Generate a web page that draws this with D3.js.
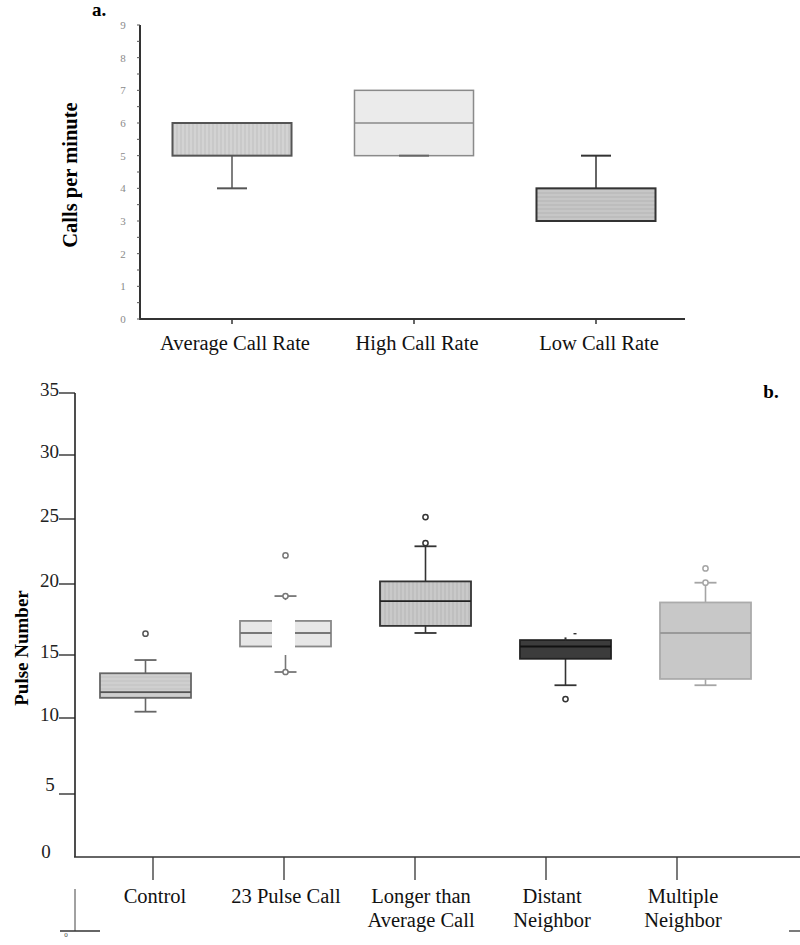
<!DOCTYPE html>
<html><head><meta charset="utf-8">
<script src="https://cdn.jsdelivr.net/npm/d3@7"></script>
<style>body{margin:0;background:#fff}svg{display:block}text{font-family:"Liberation Serif","Times New Roman",serif}</style>
</head><body>
<script>
// ---- Panel a data ----
const topCats = ["Average Call Rate", "High Call Rate", "Low Call Rate"];
const topMin = [4, 5, 3];
const topQ1  = [5, 5, 3];
const topMed = [6, 6, 3];
const topQ3  = [6, 7, 4];
const topMax = [6, 7, 5];
const topTicks = [0, 1, 2, 3, 4, 5, 6, 7, 8, 9];

// ---- Panel b data ----
const botCats = [["Control"], ["23 Pulse Call"], ["Longer than", "Average Call"], ["Distant", "Neighbor"], ["Multiple", "Neighbor"]];
const botMin = [10.5, 13.65, 16.55, 12.6, 12.6];
const botQ1  = [11.6, 15.6, 17.05, 14.7, 13.1];
const botMed = [12.05, 16.55, 18.8, 15.6, 16.55];
const botQ3  = [13.55, 17.4, 20.2, 16.05, 18.7];
const botMax = [14.6, 19.15, 22.9, 16.1, 20.1];
const botOutliers = [[16.5], [13.65, 19.15, 22.2], [23.15, 25.15], [11.5], [20.1, 21.2]];
const botTicks = [0, 5, 10, 15, 20, 25, 30, 35];

const svg = d3.select("body").append("svg").attr("width", 800).attr("height", 945);
const defs = svg.append("defs");
function stripes(id, bg, fg, vertical) {
  const p = defs.append("pattern").attr("id", id).attr("patternUnits", "userSpaceOnUse")
    .attr("width", vertical ? 4 : 8).attr("height", vertical ? 8 : 4);
  p.append("rect").attr("width", 8).attr("height", 8).attr("fill", bg);
  if (vertical) p.append("rect").attr("x", 0).attr("width", 2).attr("height", 8).attr("fill", fg);
  else p.append("rect").attr("y", 0).attr("width", 8).attr("height", 2).attr("fill", fg);
}
stripes("vA", "#d3d3d3", "#c9c9c9", true);
stripes("hL", "#c6c6c6", "#bdbdbd", false);
stripes("vL", "#c9c9c9", "#bfbfbf", true);
stripes("hC", "#cfcfcf", "#c8c8c8", false);

// ================= Panel a =================
const ya = d3.scaleLinear().domain([0, 9]).range([319, 25]);
const xa = d3.scaleBand().domain(topCats).range([141, 687]).padding(0);
const bwA = xa.bandwidth() * 0.654;
const ga = svg.append("g");
const topStyle = [
  {fill: "url(#vA)", stroke: "#555", sw: 2, med: "#555"},
  {fill: "#ebebeb", stroke: "#8a8a8a", sw: 1.5, med: "#8a8a8a"},
  {fill: "url(#hL)", stroke: "#333", sw: 2, med: "#333"}
];
topCats.forEach((c, i) => {
  const cx = xa(c) + xa.bandwidth() / 2, st = topStyle[i];
  ga.append("line").attr("x1", cx).attr("x2", cx).attr("y1", ya(topMin[i])).attr("y2", ya(topQ1[i])).attr("stroke", st.stroke).attr("stroke-width", 1.5);
  ga.append("line").attr("x1", cx).attr("x2", cx).attr("y1", ya(topMax[i])).attr("y2", ya(topQ3[i])).attr("stroke", st.stroke).attr("stroke-width", 1.5);
  ga.append("rect").attr("x", cx - bwA / 2).attr("width", bwA).attr("y", ya(topQ3[i])).attr("height", ya(topQ1[i]) - ya(topQ3[i]))
    .attr("fill", st.fill).attr("stroke", st.stroke).attr("stroke-width", st.sw);
  ga.append("line").attr("x1", cx - bwA / 2).attr("x2", cx + bwA / 2).attr("y1", ya(topMed[i])).attr("y2", ya(topMed[i])).attr("stroke", st.med).attr("stroke-width", 1.5);
  ga.append("line").attr("x1", cx - 15).attr("x2", cx + 15).attr("y1", ya(topMin[i])).attr("y2", ya(topMin[i])).attr("stroke", i === 1 ? "#666" : st.stroke).attr("stroke-width", 2);
  if (topMax[i] !== topQ3[i])
    ga.append("line").attr("x1", cx - 15).attr("x2", cx + 15).attr("y1", ya(topMax[i])).attr("y2", ya(topMax[i])).attr("stroke", st.stroke).attr("stroke-width", 2);
});
const axA = ga.append("g");
axA.append("line").attr("x1", 140).attr("x2", 140).attr("y1", ya(9)).attr("y2", ya(0)).attr("stroke", "#333").attr("stroke-width", 2);
axA.append("line").attr("x1", 139).attr("x2", 685).attr("y1", ya(0)).attr("y2", ya(0)).attr("stroke", "#333").attr("stroke-width", 2);
d3.range(0, 9.01, 0.5).forEach(v => {
  axA.append("line").attr("x1", 137).attr("x2", 140).attr("y1", ya(v)).attr("y2", ya(v)).attr("stroke", "#555").attr("stroke-width", 1);
});
topTicks.forEach(v => {
  axA.append("text").attr("x", 123).attr("y", ya(v) + 4).attr("text-anchor", "middle").attr("font-size", 11).attr("fill", "#8a8a8a").text(v);
});
topCats.forEach(c => {
  const cx = xa(c) + xa.bandwidth() / 2;
  axA.append("line").attr("x1", cx).attr("x2", cx).attr("y1", ya(0)).attr("y2", ya(0) + 5).attr("stroke", "#333").attr("stroke-width", 1.5);
  axA.append("text").attr("x", cx + 3).attr("y", 350).attr("text-anchor", "middle").attr("font-size", 20.5).attr("fill", "#111").text(c);
});
svg.append("text").attr("x", 99).attr("y", 16).attr("text-anchor", "middle").attr("font-size", 19).attr("font-weight", "bold").text("a.");
svg.append("text").attr("transform", "translate(77,175) rotate(-90)").attr("text-anchor", "middle").attr("font-size", 20.5).attr("font-weight", "bold").text("Calls per minute");

// ================= Panel b =================
const yb = d3.scaleLinear().domain(botTicks).range([857, 794, 718, 655, 584, 519, 455, 393]);
const catKeys = botCats.map(d => d.join(" "));
const xb = d3.scaleBand().domain(catKeys).range([75.5, 775.5]).padding(0);
const xbAxis = d3.scalePoint().domain(catKeys).range([153, 677]);
const bwB = xb.bandwidth() * 0.65;
const gb = svg.append("g");
const botStyle = [
  {fill: "url(#hC)", stroke: "#666", med: "#555", wh: "#666", out: "#555"},
  {fill: "#e7e7e7", stroke: "#888", med: "#777", wh: "#777", out: "#777"},
  {fill: "url(#vL)", stroke: "#333", med: "#222", wh: "#333", out: "#333"},
  {fill: "#3c3c3c", stroke: "#222", med: "#111", wh: "#333", out: "#333"},
  {fill: "#c8c8c8", stroke: "#ababab", med: "#9a9a9a", wh: "#a5a5a5", out: "#a5a5a5"}
];
catKeys.forEach((c, i) => {
  const cx = xb(c) + xb.bandwidth() / 2, st = botStyle[i];
  gb.append("line").attr("x1", cx).attr("x2", cx).attr("y1", yb(botMin[i])).attr("y2", yb(botQ1[i])).attr("stroke", st.wh).attr("stroke-width", 1.6);
  gb.append("line").attr("x1", cx).attr("x2", cx).attr("y1", yb(botMax[i])).attr("y2", yb(botQ3[i])).attr("stroke", st.wh).attr("stroke-width", 1.6);
  gb.append("rect").attr("x", cx - bwB / 2).attr("width", bwB).attr("y", yb(botQ3[i])).attr("height", yb(botQ1[i]) - yb(botQ3[i]))
    .attr("fill", st.fill).attr("stroke", st.stroke).attr("stroke-width", 1.8);
  gb.append("line").attr("x1", cx - bwB / 2).attr("x2", cx + bwB / 2).attr("y1", yb(botMed[i])).attr("y2", yb(botMed[i])).attr("stroke", st.med).attr("stroke-width", 1.8);
  [botMin[i], botMax[i]].forEach(v => {
    if (i === 3 && v === botMax[i]) return;
    gb.append("line").attr("x1", cx - 11).attr("x2", cx + 11).attr("y1", yb(v)).attr("y2", yb(v)).attr("stroke", st.wh).attr("stroke-width", 1.8);
  });
  if (i === 1) {
    gb.append("rect").attr("x", cx - 13.5).attr("width", 23).attr("y", yb(botMax[i]) + 4).attr("height", yb(botMin[i]) - yb(botMax[i]) - 21).attr("fill", "#fff");
  }
  if (i === 3) {
    gb.append("rect").attr("x", cx - 1).attr("width", 2).attr("y", yb(botMax[i]) - 2).attr("height", 3).attr("fill", "#333");
    gb.append("rect").attr("x", cx + 8).attr("width", 3).attr("y", yb(16.5) - 0.7).attr("height", 1.4).attr("fill", "#333");
  }
  botOutliers[i].forEach(v => {
    gb.append("circle").attr("cx", cx).attr("cy", yb(v)).attr("r", 2.6).attr("fill", "#fff").attr("stroke", st.out).attr("stroke-width", 1.5);
  });
});
const axB = gb.append("g");
axB.append("line").attr("x1", 75).attr("x2", 75).attr("y1", yb(35)).attr("y2", yb(0)).attr("stroke", "#222").attr("stroke-width", 1.6);
axB.append("line").attr("x1", 74).attr("x2", 800).attr("y1", yb(0)).attr("y2", yb(0)).attr("stroke", "#333").attr("stroke-width", 1.6);
botTicks.forEach(v => {
  if (v > 0) axB.append("line").attr("x1", 59).attr("x2", 75).attr("y1", yb(v)).attr("y2", yb(v)).attr("stroke", "#222").attr("stroke-width", 1.3);
  const lx = v === 0 ? 46 : (v === 5 ? 50 : 59);
  const ly = v === 0 ? yb(v) + 1 : (v === 5 ? yb(v) - 3 : yb(v) + 3);
  axB.append("text").attr("x", lx).attr("y", ly).attr("text-anchor", v === 0 || v === 5 ? "middle" : "end").attr("font-size", 19).attr("fill", "#222").text(v);
});
catKeys.forEach((c, i) => {
  const tx = xbAxis(c);
  axB.append("line").attr("x1", tx).attr("x2", tx).attr("y1", yb(0)).attr("y2", yb(0) + 23).attr("stroke", "#333").attr("stroke-width", 1.3);
  botCats[i].forEach((ln, j) => {
    axB.append("text").attr("x", tx + (i >= 2 ? 6 : 2)).attr("y", 903 + j * 24).attr("text-anchor", "middle").attr("font-size", 20.5).attr("fill", "#111").text(ln);
  });
});
axB.append("line").attr("x1", 75).attr("x2", 75).attr("y1", 889).attr("y2", 931).attr("stroke", "#444").attr("stroke-width", 1);
axB.append("line").attr("x1", 60).attr("x2", 100).attr("y1", 931).attr("y2", 931).attr("stroke", "#333").attr("stroke-width", 1.3);
axB.append("text").attr("x", 66).attr("y", 937).attr("text-anchor", "middle").attr("font-size", 7).attr("fill", "#444").text("0");
axB.append("line").attr("x1", 789).attr("x2", 801).attr("y1", 931).attr("y2", 931).attr("stroke", "#333").attr("stroke-width", 1.3);

svg.append("text").attr("x", 771).attr("y", 398).attr("text-anchor", "middle").attr("font-size", 19).attr("font-weight", "bold").text("b.");
svg.append("text").attr("transform", "translate(28,648) rotate(-90)").attr("text-anchor", "middle").attr("font-size", 19).attr("font-weight", "bold").text("Pulse Number");
</script>
</body></html>
